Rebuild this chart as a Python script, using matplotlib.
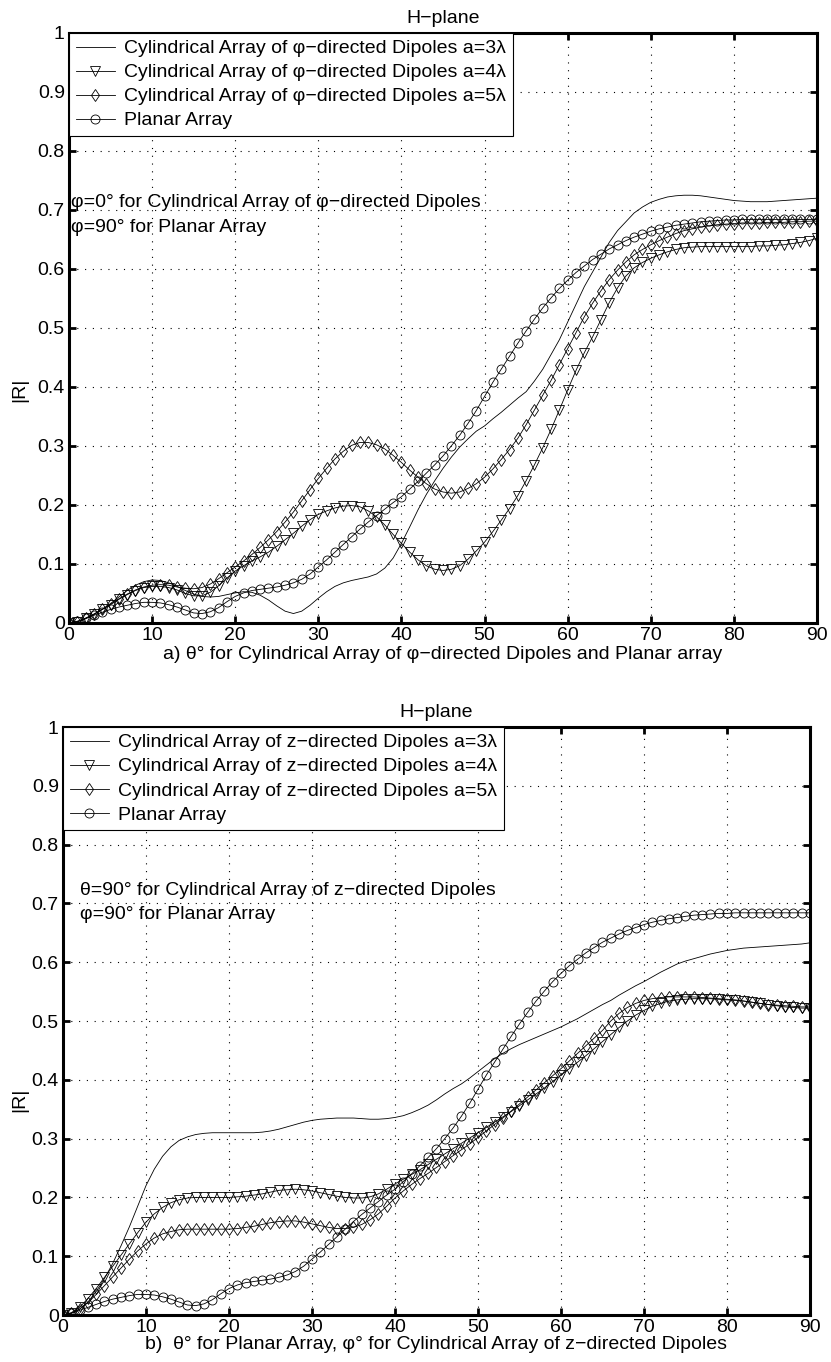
import matplotlib
matplotlib.use('Agg')
import matplotlib.pyplot as plt
import numpy as np

plt.rcParams['font.family'] = ['Liberation Sans', 'DejaVu Sans']
plt.rcParams['font.size'] = 14

# angle in degrees, one sample per degree
theta = list(range(0, 91))

# a) phi-directed dipoles
cyl_phi_a3 = [0.000, 0.002, 0.007, 0.014, 0.023, 0.033, 0.044, 0.055, 0.064, 0.070,
              0.073, 0.072, 0.068, 0.062, 0.055, 0.049, 0.045, 0.044, 0.045, 0.048,
              0.051, 0.053, 0.052, 0.047, 0.039, 0.029, 0.020, 0.016, 0.020, 0.030,
              0.042, 0.053, 0.062, 0.068, 0.072, 0.075, 0.078, 0.083, 0.093, 0.110,
              0.135, 0.163, 0.192, 0.218, 0.241, 0.262, 0.281, 0.298, 0.312, 0.325,
              0.334, 0.346, 0.357, 0.369, 0.381, 0.392, 0.410, 0.430, 0.455, 0.480,
              0.510, 0.540, 0.570, 0.595, 0.620, 0.645, 0.665, 0.680, 0.695, 0.705,
              0.713, 0.718, 0.722, 0.724, 0.725, 0.725, 0.724, 0.722, 0.720, 0.718,
              0.716, 0.715, 0.714, 0.714, 0.714, 0.715, 0.716, 0.717, 0.718, 0.719,
              0.720]
cyl_phi_a4 = [0.000, 0.002, 0.008, 0.015, 0.023, 0.031, 0.040, 0.048, 0.055, 0.060,
              0.062, 0.062, 0.060, 0.056, 0.050, 0.046, 0.046, 0.052, 0.063, 0.076,
              0.088, 0.097, 0.105, 0.112, 0.120, 0.130, 0.141, 0.152, 0.164, 0.175,
              0.184, 0.190, 0.195, 0.198, 0.199, 0.197, 0.190, 0.180, 0.166, 0.150,
              0.135, 0.120, 0.107, 0.097, 0.091, 0.089, 0.091, 0.097, 0.108, 0.122,
              0.137, 0.155, 0.174, 0.194, 0.216, 0.241, 0.268, 0.297, 0.328, 0.361,
              0.395, 0.428, 0.458, 0.485, 0.514, 0.543, 0.568, 0.588, 0.602, 0.611,
              0.618, 0.624, 0.629, 0.633, 0.636, 0.637, 0.638, 0.638, 0.638, 0.638,
              0.638, 0.638, 0.638, 0.639, 0.639, 0.640, 0.641, 0.643, 0.645, 0.648,
              0.652]
cyl_phi_a5 = [0.000, 0.002, 0.008, 0.015, 0.023, 0.032, 0.041, 0.049, 0.056, 0.061,
              0.064, 0.065, 0.064, 0.061, 0.059, 0.058, 0.060, 0.066, 0.075, 0.085,
              0.095, 0.105, 0.116, 0.128, 0.141, 0.155, 0.171, 0.188, 0.207, 0.226,
              0.245, 0.262, 0.278, 0.291, 0.301, 0.306, 0.306, 0.302, 0.295, 0.284,
              0.272, 0.259, 0.247, 0.236, 0.227, 0.222, 0.220, 0.222, 0.228, 0.236,
              0.247, 0.261, 0.277, 0.294, 0.313, 0.336, 0.361, 0.386, 0.411, 0.438,
              0.465, 0.492, 0.519, 0.542, 0.563, 0.582, 0.598, 0.612, 0.624, 0.633,
              0.641, 0.648, 0.654, 0.660, 0.665, 0.668, 0.671, 0.673, 0.675, 0.676,
              0.677, 0.678, 0.678, 0.678, 0.679, 0.679, 0.679, 0.680, 0.680, 0.681,
              0.681]
planar = [0.000, 0.003, 0.008, 0.013, 0.018, 0.023, 0.027, 0.030, 0.033, 0.035,
          0.035, 0.034, 0.031, 0.027, 0.022, 0.017, 0.016, 0.019, 0.026, 0.036,
          0.045, 0.051, 0.055, 0.057, 0.059, 0.061, 0.064, 0.068, 0.074, 0.083,
          0.095, 0.107, 0.120, 0.133, 0.146, 0.159, 0.171, 0.182, 0.193, 0.204,
          0.214, 0.227, 0.240, 0.254, 0.268, 0.283, 0.300, 0.318, 0.338, 0.360,
          0.384, 0.408, 0.430, 0.452, 0.474, 0.495, 0.515, 0.534, 0.551, 0.567,
          0.581, 0.594, 0.605, 0.616, 0.625, 0.634, 0.641, 0.648, 0.654, 0.659,
          0.664, 0.668, 0.671, 0.674, 0.676, 0.678, 0.680, 0.681, 0.682, 0.683,
          0.683, 0.684, 0.684, 0.684, 0.684, 0.684, 0.684, 0.684, 0.684, 0.684,
          0.684]

# b) z-directed dipoles
cyl_z_a3 = [0.000, 0.003, 0.010, 0.022, 0.040, 0.062, 0.088, 0.118, 0.150, 0.185,
            0.220, 0.248, 0.270, 0.286, 0.297, 0.303, 0.307, 0.309, 0.310, 0.310,
            0.310, 0.310, 0.310, 0.310, 0.311, 0.313, 0.316, 0.320, 0.324, 0.328,
            0.331, 0.333, 0.334, 0.335, 0.335, 0.335, 0.334, 0.333, 0.333, 0.334,
            0.336, 0.339, 0.344, 0.350, 0.357, 0.366, 0.376, 0.385, 0.393, 0.403,
            0.414, 0.425, 0.436, 0.445, 0.453, 0.460, 0.466, 0.472, 0.478, 0.484,
            0.490, 0.497, 0.504, 0.512, 0.520, 0.528, 0.535, 0.544, 0.552, 0.560,
            0.567, 0.575, 0.583, 0.590, 0.597, 0.602, 0.606, 0.610, 0.614, 0.617,
            0.620, 0.622, 0.624, 0.625, 0.626, 0.627, 0.628, 0.629, 0.630, 0.631,
            0.633]
cyl_z_a4 = [0.000, 0.004, 0.013, 0.028, 0.045, 0.064, 0.083, 0.102, 0.121, 0.140,
            0.158, 0.172, 0.183, 0.191, 0.196, 0.199, 0.200, 0.200, 0.200, 0.200,
            0.200, 0.201, 0.202, 0.204, 0.206, 0.209, 0.212, 0.213, 0.214, 0.213,
            0.211, 0.208, 0.205, 0.202, 0.200, 0.199, 0.199, 0.201, 0.206, 0.214,
            0.223, 0.231, 0.239, 0.247, 0.256, 0.265, 0.274, 0.283, 0.292, 0.301,
            0.310, 0.319, 0.328, 0.337, 0.346, 0.356, 0.366, 0.376, 0.386, 0.397,
            0.408, 0.419, 0.430, 0.441, 0.453, 0.465, 0.477, 0.489, 0.500, 0.510,
            0.518, 0.525, 0.530, 0.534, 0.536, 0.537, 0.538, 0.538, 0.538, 0.537,
            0.536, 0.535, 0.534, 0.532, 0.530, 0.528, 0.526, 0.524, 0.523, 0.522,
            0.522]
cyl_z_a5 = [0.000, 0.003, 0.010, 0.021, 0.035, 0.050, 0.065, 0.080, 0.095, 0.109,
            0.121, 0.131, 0.138, 0.142, 0.145, 0.146, 0.146, 0.146, 0.146, 0.146,
            0.146, 0.147, 0.149, 0.151, 0.154, 0.157, 0.159, 0.160, 0.160, 0.158,
            0.155, 0.152, 0.149, 0.147, 0.147, 0.149, 0.154, 0.162, 0.172, 0.185,
            0.199, 0.211, 0.222, 0.232, 0.241, 0.251, 0.261, 0.271, 0.281, 0.291,
            0.302, 0.313, 0.324, 0.335, 0.347, 0.359, 0.371, 0.383, 0.395, 0.407,
            0.419, 0.432, 0.445, 0.458, 0.471, 0.484, 0.500, 0.513, 0.523, 0.530,
            0.535, 0.538, 0.540, 0.541, 0.541, 0.541, 0.541, 0.540, 0.539, 0.538,
            0.537, 0.536, 0.534, 0.532, 0.530, 0.528, 0.527, 0.526, 0.525, 0.524,
            0.524]

xticks = [0, 10, 20, 30, 40, 50, 60, 70, 80, 90]
yticks = [0, 0.1, 0.2, 0.3, 0.4, 0.5, 0.6, 0.7, 0.8, 0.9, 1]
ytick_labels = ['0', '0.1', '0.2', '0.3', '0.4', '0.5', '0.6', '0.7', '0.8', '0.9', '1']

M = '\u2212'
FS = 14

def style_axes(ax):
    ax.set_xlim(0, 90)
    ax.set_ylim(0, 1)
    ax.set_xticks(xticks)
    ax.set_yticks(yticks)
    ax.set_yticklabels(ytick_labels)
    ax.tick_params(direction='in', length=5, width=2, labelsize=FS, pad=3,
                   top=True, right=True)
    for s in ax.spines.values():
        s.set_linewidth(2.2)
    ax.grid(True, color='k', linestyle=(0, (1, 6)), linewidth=0.8)

def draw_series(ax, series, labels):
    markers = [None, 'v', 'd', 'o']
    for y, lab, mk in zip(series, labels, markers):
        ax.plot(theta, y, color='k', lw=0.6, marker=mk, ms=6.5,
                mfc='none', mec='k', mew=0.6, label=lab)
    leg = ax.legend(loc='upper left', borderaxespad=0, fancybox=False, framealpha=1,
                    edgecolor='k', handlelength=2.0, handletextpad=0.5,
                    labelspacing=0.33, borderpad=0.35, fontsize=FS)
    leg.get_frame().set_linewidth(0.8)

fig = plt.figure(figsize=(8.31, 13.62), dpi=100)

# ---- panel a
ax1 = fig.add_axes([0.0830, 0.5426, 0.9002, 0.4332])
style_axes(ax1)
draw_series(ax1, [cyl_phi_a3, cyl_phi_a4, cyl_phi_a5, planar],
            ['Cylindrical Array of φ' + M + 'directed Dipoles a=3λ',
             'Cylindrical Array of φ' + M + 'directed Dipoles a=4λ',
             'Cylindrical Array of φ' + M + 'directed Dipoles a=5λ',
             'Planar Array'])
ax1.set_title('H' + M + 'plane', fontsize=FS, pad=7)
ax1.set_xlabel('a) θ° for Cylindrical Array of φ' + M + 'directed Dipoles and Planar array',
               fontsize=FS, labelpad=1)
ax1.set_ylabel('|R|', fontsize=FS)
ax1.yaxis.set_label_coords(-0.055, 0.395)
ax1.text(0.25, 0.712, 'φ=0° for Cylindrical Array of φ' + M + 'directed Dipoles',
         fontsize=FS, va='center', ha='left')
ax1.text(0.25, 0.671, 'φ=90° for Planar Array', fontsize=FS, va='center', ha='left')

# ---- panel b
ax2 = fig.add_axes([0.0758, 0.0345, 0.8989, 0.4317])
style_axes(ax2)
draw_series(ax2, [cyl_z_a3, cyl_z_a4, cyl_z_a5, planar],
            ['Cylindrical Array of z' + M + 'directed Dipoles a=3λ',
             'Cylindrical Array of z' + M + 'directed Dipoles a=4λ',
             'Cylindrical Array of z' + M + 'directed Dipoles a=5λ',
             'Planar Array'])
ax2.set_title('H' + M + 'plane', fontsize=FS, pad=7)
ax2.set_xlabel('b)  θ° for Planar Array, φ° for Cylindrical Array of z' + M + 'directed Dipoles',
               fontsize=FS, labelpad=0)
ax2.set_ylabel('|R|', fontsize=FS)
ax2.yaxis.set_label_coords(-0.047, 0.366)
ax2.text(2.0, 0.722, 'θ=90° for Cylindrical Array of z' + M + 'directed Dipoles',
         fontsize=FS, va='center', ha='left')
ax2.text(2.0, 0.681, 'φ=90° for Planar Array', fontsize=FS, va='center', ha='left')

fig.savefig('out.png', dpi=100)
